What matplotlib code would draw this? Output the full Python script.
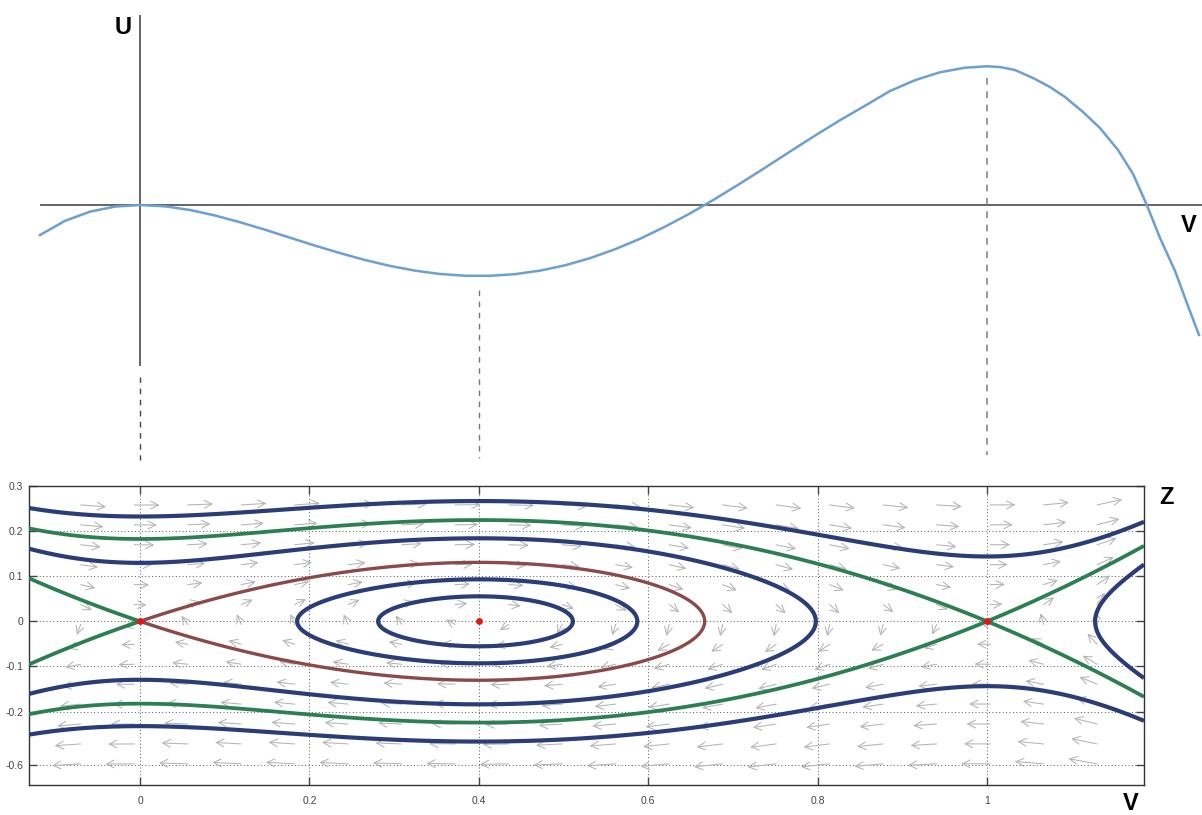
import numpy as np
import matplotlib
matplotlib.use("Agg")
import matplotlib.pyplot as plt

# ---------------- data ----------------
# top panel: potential curve U(V) (U in arbitrary units)
top_V = [-0.1181, -0.0886, -0.0590, -0.0295, 0.0, 0.0295, 0.0590, 0.0886, 0.1181,
         0.1476, 0.1771, 0.2066, 0.2361, 0.2656, 0.2952, 0.3247, 0.3542, 0.3837,
         0.4132, 0.4427, 0.4723, 0.5018, 0.5313, 0.5608, 0.5903, 0.6198, 0.6494,
         0.6789, 0.7084, 0.7379, 0.7674, 0.7969, 0.8265, 0.8560, 0.8855, 0.9150,
         0.9445, 0.9740, 1.0000, 1.0153, 1.0331, 1.0543, 1.0744, 1.0921, 1.1133,
         1.1334, 1.1547, 1.1724, 1.1877, 1.2043, 1.2220, 1.2373, 1.2503]
top_U = [-3.61, -1.91, -0.80, -0.19, 0.0, -0.16, -0.60, -1.26, -2.07,
         -2.97, -3.93, -4.88, -5.78, -6.61, -7.32, -7.89, -8.29, -8.50,
         -8.51, -8.31, -7.89, -7.25, -6.39, -5.32, -4.06, -2.61, -1.01,
         0.73, 2.57, 4.48, 6.42, 8.34, 10.19, 11.93, 13.7, 15.0,
         15.95, 16.5, 16.67, 16.58, 16.22, 15.26, 14.18, 12.98, 11.18,
         9.25, 6.61, 3.73, 0.24, -3.97, -7.93, -12.14, -15.62]

# equilibria of the phase portrait (red dots, dashed guides)
equilibria = [0.0, 0.4, 1.0]
# energy levels of the drawn trajectories
blue_closed_levels = [-0.0070, -0.0042]
blue_outer_level = 0.027
blue_left_level = 0.0084
blue_right_level = 0.0106

x_ticks = [0, 0.2, 0.4, 0.6, 0.8, 1]
x_ticklabels = ["0", "0.2", "0.4", "0.6", "0.8", "1"]
y_ticks = [0.3, 0.2, 0.1, 0, -0.1, -0.2, -0.318]
y_ticklabels = ["0.3", "0.2", "0.1", "0", "-0.1", "-0.2", "-0.6"]

# ---------------- styles ----------------
W, H = 1202, 815
BLUE = "#2b3d79"
GREEN = "#2b7f52"
BROWN = "#8a4a4a"
CURVE = "#6e9fd2"
ARROW = "#b4b4b4"
LABEL_FONT = ["Liberation Sans", "DejaVu Sans"]

fig = plt.figure(figsize=(W / 100, H / 100), dpi=100)

# ---------------- top panel ----------------
px_per_V = 847.0
x0_px = 140.0
u_scale = 8.321  # pixels per U unit
u0_px = 205.0
top_h = 470.0
axt = fig.add_axes([0, (H - top_h) / H, 1, top_h / H])
axt.set_xlim(-x0_px / px_per_V, (W - x0_px) / px_per_V)
axt.set_ylim(-(top_h - u0_px) / u_scale, u0_px / u_scale)
axt.axis("off")

def upx(y):
    return (u0_px - y) / u_scale

def vpx(x):
    return (x - x0_px) / px_per_V

# axes lines
axt.plot([vpx(40), vpx(1202)], [0, 0], color="#3a3a3a", lw=1.1, solid_capstyle="butt")
axt.plot([0, 0], [upx(15), upx(366)], color="#3a3a3a", lw=1.1, solid_capstyle="butt")
# dashed guides
axt.plot([equilibria[0]] * 2, [upx(377), upx(460)], color="#444444", lw=1.0,
         ls=(0, (4, 4)))
axt.plot([equilibria[1]] * 2, [upx(290), upx(458)], color="#777777", lw=1.0,
         ls=(0, (4, 4)))
axt.plot([equilibria[2]] * 2, [upx(78), upx(455)], color="#888888", lw=1.2,
         ls=(0, (4, 4)))
axt.plot(top_V, top_U, color=CURVE, lw=1.8, solid_joinstyle="round")

def ftext(x, y, s, **kw):
    fig.text(x / W, 1 - y / H, s, ha="center", va="center", fontsize=17,
             fontweight="bold", family=LABEL_FONT, **kw)

ftext(123, 27, "U")
ftext(1189, 225, "V")
ftext(1166, 497, "Z")
ftext(1131, 803, "V")

# ---------------- bottom panel: phase portrait ----------------
left, right, top, bottom = 29, 1144, 486, 785
ax = fig.add_axes([left / W, (H - bottom) / H, (right - left) / W, (bottom - top) / H])
xmin, xmax = vpx(left), vpx(right)
py_per_Z = 450.0
z0_px = 621.7
ymin, ymax = -(bottom - z0_px) / py_per_Z, 0.3
ax.set_xlim(xmin, xmax)
ax.set_ylim(ymin, ymax)

a, b = equilibria[1], equilibria[2]

def potential(v):
    return -(v ** 4 / 4 - (a + b) * v ** 3 / 3 + a * b * v ** 2 / 2)

def force(v):
    return v * (v - a) * (v - b)

# ticks and grid
ax.set_xticks(x_ticks)
ax.set_xticklabels(x_ticklabels)
ax.set_yticks(y_ticks)
ax.set_yticklabels(y_ticklabels)
ax.tick_params(direction="in", length=6, width=1.0, top=True, right=True,
               labelsize=7.5, labelcolor="#444444", colors="#444444", pad=8)
for lab in ax.get_xticklabels() + ax.get_yticklabels():
    lab.set_family(["Liberation Sans", "DejaVu Sans"])
ax.tick_params(axis="y", pad=4)
for t in x_ticks:
    ax.axvline(t, color="#555555", lw=0.7, ls=(0, (1, 2.5)), zorder=1)
for t in y_ticks:
    ax.axhline(t, color="#555555", lw=0.7, ls=(0, (1, 2.5)), zorder=1)
for s in ax.spines.values():
    s.set_color("#333333")
    s.set_linewidth(1.0)

# direction field
qv = np.linspace(-0.07, 1.13, 20)
qz = np.linspace(-0.316, 0.258, 14)
for zq in qz:
    for vq in qv:
        vx = zq * px_per_V
        vy = force(vq) * py_per_Z
        mag = np.hypot(vx, vy)
        if mag == 0:
            continue
        L = 10 + 0.07 * mag
        dx = L * vx / mag / px_per_V
        dy = L * vy / mag / py_per_Z
        ax.annotate("", xy=(vq + dx, zq + dy), xytext=(vq, zq),
                    arrowprops=dict(arrowstyle="->,head_length=0.55,head_width=0.28",
                                    color=ARROW, lw=0.75, shrinkA=0, shrinkB=0,
                                    mutation_scale=10), zorder=2)

# contours (energy levels of the conservative system)
gv = np.linspace(xmin, xmax, 1500)
gz = np.linspace(ymin, ymax, 900)
VV, ZZ = np.meshgrid(gv, gz)
E = ZZ ** 2 / 2 + potential(VV)
lw = 3.0
ax.contour(VV, ZZ, np.ma.masked_where(VV < 0.05, E), levels=sorted(blue_closed_levels),
           colors=BLUE, linewidths=lw, linestyles="solid", zorder=4)
ax.contour(VV, ZZ, E, levels=[blue_outer_level], colors=BLUE, linewidths=lw,
           linestyles="solid", zorder=4)
ax.contour(VV, ZZ, np.ma.masked_where(VV > b, E), levels=[blue_left_level],
           colors=BLUE, linewidths=lw, linestyles="solid", zorder=4)
ax.contour(VV, ZZ, np.ma.masked_where(VV < b, E), levels=[blue_right_level],
           colors=BLUE, linewidths=lw, linestyles="solid", zorder=4)
E1 = potential(b)
E0 = potential(equilibria[0])
ax.contour(VV, ZZ, E, levels=[E1], colors=GREEN, linewidths=2.7,
           linestyles="solid", zorder=4)
ax.contour(VV, ZZ, np.ma.masked_where(VV > 0.0005, E), levels=[E0], colors=GREEN,
           linewidths=2.7, linestyles="solid", zorder=4)
ax.contour(VV, ZZ, np.ma.masked_where(VV < -0.0005, E), levels=[E0], colors=BROWN,
           linewidths=2.4, linestyles="solid", zorder=4)

ax.scatter(equilibria, [0, 0, 0], s=24, color="#ee1111", zorder=6, linewidths=0)

fig.savefig("out.png", dpi=100)
